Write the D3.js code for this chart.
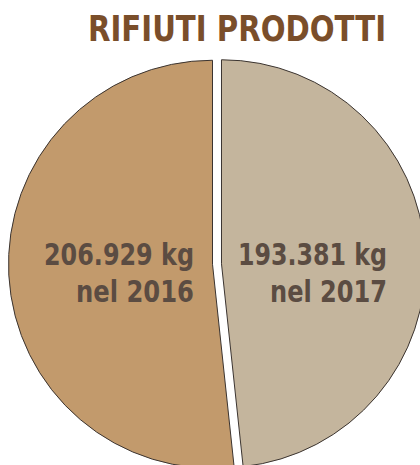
<!DOCTYPE html>
<html>
<head>
<meta charset="utf-8">
<script src="https://cdn.jsdelivr.net/npm/d3@7"></script>
<style>
  html, body { margin: 0; padding: 0; background: #fff; }
  svg { display: block; }
</style>
</head>
<body>
<div id="chart"></div>
<script>
const years = ["2017", "2016"]
const values = [193381, 206929]
const valueLabels = ["193.381 kg", "206.929 kg"]
const yearLabels = ["nel 2017", "nel 2016"]
const colors = ["#c4b59d", "#c29a6c"]

const width = 420
const height = 465
const cx = 217
const cy = 264
const radius = 204
const explode = 4.5

const svg = d3.select('#chart')
    .append('svg')
    .attr('width', width)
    .attr('height', height)
    .attr('font-family', '"DejaVu Sans Condensed", "DejaVu Sans", sans-serif')
    .attr('font-weight', 'bold')

// title, squeezed to the width of the original lettering
svg.append('text')
    .attr('x', 386)
    .attr('y', 41)
    .attr('text-anchor', 'end')
    .attr('font-size', 35)
    .attr('fill', '#7a4e2a')
    .attr('textLength', 298)
    .attr('lengthAdjust', 'spacingAndGlyphs')
    .text('RIFIUTI PRODOTTI')

const pie = d3.pie()
    .sort(null)
    .value(d => d)

const arc = d3.arc()
    .innerRadius(0)
    .outerRadius(radius)

const slices = pie(values)

const g = svg.append('g')
    .attr('transform', `translate(${cx},${cy})`)

g.selectAll('path')
    .data(slices)
    .join('path')
    .attr('d', arc)
    .attr('transform', d => {
        const mid = (d.startAngle + d.endAngle) / 2
        return `translate(${Math.sin(mid) * explode},${-Math.cos(mid) * explode})`
    })
    .attr('fill', (d, i) => colors[i])
    .attr('stroke', '#3b3430')
    .attr('stroke-width', 1)

// labels: right slice text sits far right, left slice text hugs the split
const labelX = [170, -23]
const labels = g.selectAll('.lbl')
    .data(slices)
    .join('text')
    .attr('class', 'lbl')
    .attr('text-anchor', 'end')
    .attr('fill', '#5b4c42')
    .attr('font-size', 30)

labels.append('tspan')
    .attr('x', (d, i) => labelX[i])
    .attr('y', 1)
    .attr('textLength', (d, i) => i === 0 ? 149 : 150)
    .attr('lengthAdjust', 'spacingAndGlyphs')
    .text((d, i) => valueLabels[i])

labels.append('tspan')
    .attr('x', (d, i) => labelX[i])
    .attr('y', 38)
    .attr('textLength', (d, i) => i === 0 ? 117 : 118)
    .attr('lengthAdjust', 'spacingAndGlyphs')
    .text((d, i) => yearLabels[i])
</script>
</body>
</html>
